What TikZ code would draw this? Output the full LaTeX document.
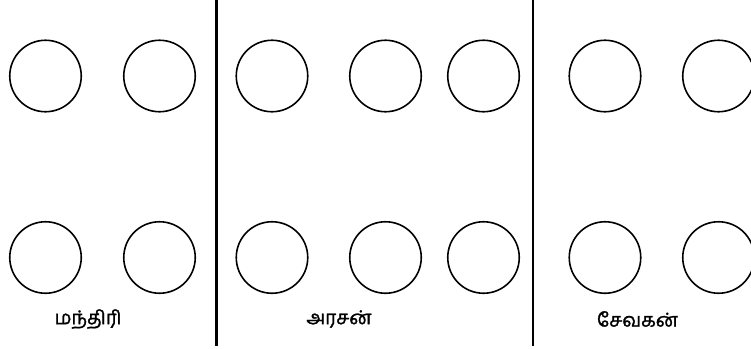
\documentclass[tikz,border=0pt]{standalone}
\usepackage{fontspec}
\newfontfamily\tamilfont[Script=Tamil,FakeBold=1.5]{Hind Madurai}
\begin{document}
\begin{tikzpicture}[x=1pt,y=-1pt,seat/.style={draw,circle,line width=1.6pt,minimum size=71.5pt,inner sep=0pt},wall/.style={line width=2.6pt},role/.style={font=\tamilfont\fontsize{19}{21}\selectfont}]
\useasboundingbox (0,0) rectangle (751,348);\clip (0,0) rectangle (751,348);
% top row
\node[seat] (t1) at (45.5,76) {};\node[seat] (t2) at (159.5,76) {};
\node[seat] (t3) at (272,76) {};\node[seat] (t4) at (385.5,76) {};\node[seat] (t5) at (483.5,76) {};
\node[seat] (t6) at (605,76) {};\node[seat] (t7) at (718.5,76) {};
% bottom row
\node[seat] (b1) at (45.5,257.5) {};\node[seat] (b2) at (159.5,257.5) {};
\node[seat] (b3) at (272,257.5) {};\node[seat] (b4) at (385.5,257.5) {};\node[seat] (b5) at (483.5,257.5) {};
\node[seat] (b6) at (605,257.5) {};\node[seat] (b7) at (718.5,257.5) {};
% walls
\coordinate (w1t) at (216.5,0);\coordinate (w1b) at (216.5,346);\draw[wall] (w1t)--(w1b);
\coordinate (w2t) at (533,0);\coordinate (w2b) at (533,346);\draw[wall] (w2t)--(w2b);
% names
\node[role] (mantiri) at (88,319) {மந்திரி};
\node[role] (arasan) at (339,319) {அரசன்};
\node[role] (sevakan) at (637.5,319) {சேவகன்};
\end{tikzpicture}
\end{document}
